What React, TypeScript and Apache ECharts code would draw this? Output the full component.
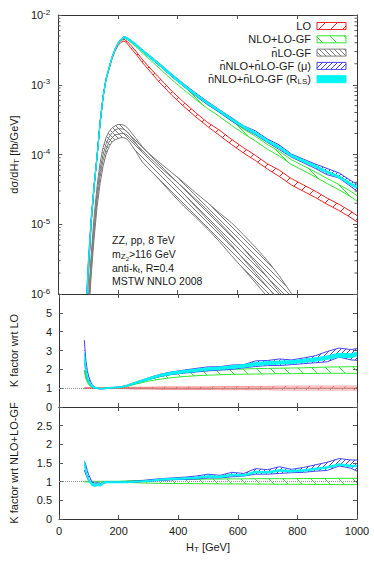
import React, { useEffect, useRef } from "react";
import * as echarts from "echarts";

// ---------------- data ----------------
const HT = [85, 90, 95, 100, 110, 120, 130, 140, 150, 160, 170, 180, 190, 200, 210, 220, 230, 240, 260, 280, 300, 340, 380, 420, 460, 500, 540, 580, 620, 660, 700, 740, 780, 820, 860, 900, 940, 980, 1000];
const HT_GF = [85, 90, 95, 100, 110, 120, 130, 140, 150, 160, 170, 180, 190, 200, 210, 220, 230, 240, 260, 280, 300, 340, 380, 420, 460, 500, 540, 580, 620, 660, 700, 740, 780, 820, 860];

// top panel: d sigma / d HT [fb/GeV]
const loLow = [2.30e-8, 1.23e-7, 4.91e-7, 1.63e-6, 9.8e-6, 3.40e-5, 9.36e-5, 2.83e-4, 6.63e-4, 1.18e-3, 1.66e-3, 2.35e-3, 3.03e-3, 3.64e-3, 4.05e-3, 4.24e-3, 3.96e-3, 3.46e-3, 2.75e-3, 2.13e-3, 1.69e-3, 1.07e-3, 7.09e-4, 4.90e-4, 3.47e-4, 2.52e-4, 1.87e-4, 1.39e-4, 1.05e-4, 8.18e-5, 6.20e-5, 4.84e-5, 3.67e-5, 2.98e-5, 2.43e-5, 1.93e-5, 1.57e-5, 1.24e-5, 1.08e-5];
const loHigh = [2.39e-8, 1.28e-7, 5.11e-7, 1.69e-6, 1.02e-5, 3.54e-5, 9.74e-5, 2.94e-4, 6.90e-4, 1.23e-3, 1.73e-3, 2.45e-3, 3.15e-3, 3.79e-3, 4.29e-3, 4.50e-3, 4.20e-3, 3.81e-3, 3.03e-3, 2.35e-3, 1.87e-3, 1.23e-3, 8.12e-4, 5.62e-4, 3.98e-4, 2.88e-4, 2.23e-4, 1.65e-4, 1.25e-4, 9.72e-5, 7.37e-5, 5.96e-5, 4.52e-5, 3.68e-5, 2.99e-5, 2.37e-5, 1.93e-5, 1.53e-5, 1.33e-5];
const nloHigh = [4.62e-8, 1.99e-7, 6.92e-7, 2.03e-6, 1.07e-5, 3.54e-5, 9.45e-5, 2.86e-4, 6.76e-4, 1.21e-3, 1.73e-3, 2.47e-3, 3.21e-3, 3.94e-3, 4.50e-3, 4.85e-3, 4.69e-3, 4.36e-3, 3.75e-3, 3.11e-3, 2.61e-3, 1.86e-3, 1.32e-3, 9.55e-4, 6.98e-4, 5.20e-4, 4.02e-4, 3.03e-4, 2.32e-4, 1.82e-4, 1.39e-4, 1.11e-4, 8.43e-5, 6.89e-5, 5.65e-5, 4.53e-5, 3.70e-5, 2.95e-5, 2.57e-5];
const nloLow = [4.50e-8, 1.91e-7, 6.67e-7, 1.96e-6, 1.05e-5, 3.47e-5, 9.36e-5, 2.83e-4, 6.69e-4, 1.20e-3, 1.71e-3, 2.45e-3, 3.18e-3, 3.86e-3, 4.38e-3, 4.67e-3, 4.48e-3, 4.14e-3, 3.52e-3, 2.91e-3, 2.44e-3, 1.70e-3, 1.18e-3, 8.50e-4, 6.17e-4, 4.55e-4, 3.49e-4, 2.62e-4, 2.00e-4, 1.56e-4, 1.19e-4, 9.50e-5, 7.21e-5, 5.89e-5, 4.79e-5, 3.83e-5, 3.11e-5, 2.47e-5, 2.15e-5];
const gfA = [2.51e-8, 7.94e-8, 2.51e-7, 7.08e-7, 3.55e-6, 1.26e-5, 3.55e-5, 7.59e-5, 1.26e-4, 1.74e-4, 2.14e-4, 2.40e-4, 2.57e-4, 2.69e-4, 2.69e-4, 2.63e-4, 2.45e-4, 2.19e-4, 1.70e-4, 1.32e-4, 1.07e-4, 7.59e-5, 5.50e-5, 3.98e-5, 2.82e-5, 2.04e-5, 1.45e-5, 1.05e-5, 7.08e-6, 4.68e-6, 3.02e-6, 1.82e-6, 1.02e-6, 6.31e-7, 3.98e-7];
const gfD = [1.26e-8, 3.98e-8, 1.26e-7, 3.55e-7, 1.78e-6, 6.31e-6, 1.78e-5, 3.80e-5, 6.76e-5, 1.0e-4, 1.29e-4, 1.51e-4, 1.62e-4, 1.70e-4, 1.74e-4, 1.74e-4, 1.66e-4, 1.48e-4, 1.10e-4, 7.94e-5, 6.46e-5, 4.27e-5, 2.75e-5, 1.82e-5, 1.26e-5, 8.51e-6, 5.62e-6, 3.55e-6, 2.29e-6, 1.45e-6, 9.12e-7, 5.75e-7, 3.63e-7, 2.29e-7, 1.45e-7];
const gfB = [2.0e-8, 6.31e-8, 2.0e-7, 5.62e-7, 2.82e-6, 1.0e-5, 2.82e-5, 6.03e-5, 1.0e-4, 1.41e-4, 1.78e-4, 2.04e-4, 2.24e-4, 2.34e-4, 2.34e-4, 2.29e-4, 2.14e-4, 1.91e-4, 1.45e-4, 1.10e-4, 8.91e-5, 6.03e-5, 4.07e-5, 2.75e-5, 1.78e-5, 1.17e-5, 7.76e-6, 5.01e-6, 3.16e-6, 2.0e-6, 1.26e-6, 7.94e-7, 5.01e-7, 3.16e-7, 2.0e-7];
const gfC = [1.58e-8, 5.01e-8, 1.58e-7, 4.47e-7, 2.24e-6, 7.94e-6, 2.24e-5, 4.79e-5, 8.32e-5, 1.17e-4, 1.51e-4, 1.74e-4, 1.91e-4, 1.95e-4, 2.0e-4, 2.0e-4, 1.91e-4, 1.74e-4, 1.41e-4, 1.17e-4, 9.55e-5, 6.61e-5, 4.68e-5, 3.31e-5, 2.29e-5, 1.58e-5, 1.05e-5, 6.92e-6, 4.47e-6, 2.82e-6, 1.74e-6, 1.07e-6, 6.61e-7, 4.17e-7, 2.63e-7];
const muHigh = [8.32e-8, 3.15e-7, 9.77e-7, 2.66e-6, 1.2e-5, 3.68e-5, 9.55e-5, 2.83e-4, 6.69e-4, 1.21e-3, 1.75e-3, 2.49e-3, 3.24e-3, 3.98e-3, 4.54e-3, 4.89e-3, 4.73e-3, 4.43e-3, 3.84e-3, 3.22e-3, 2.74e-3, 2.00e-3, 1.42e-3, 1.03e-3, 7.62e-4, 5.73e-4, 4.37e-4, 3.38e-4, 2.58e-4, 2.18e-4, 1.67e-4, 1.37e-4, 1.02e-4, 8.61e-5, 7.32e-5, 6.31e-5, 5.44e-5, 4.21e-5, 3.73e-5];
const muLow = [5.86e-8, 2.33e-7, 7.52e-7, 2.16e-6, 1.07e-5, 3.47e-5, 9.26e-5, 2.74e-4, 6.49e-4, 1.19e-3, 1.71e-3, 2.45e-3, 3.18e-3, 3.86e-3, 4.42e-3, 4.71e-3, 4.56e-3, 4.25e-3, 3.66e-3, 3.05e-3, 2.58e-3, 1.86e-3, 1.31e-3, 9.45e-4, 6.91e-4, 5.17e-4, 4.00e-4, 3.03e-4, 2.39e-4, 1.92e-4, 1.49e-4, 1.18e-4, 9.17e-5, 7.62e-5, 6.33e-5, 5.13e-5, 4.61e-5, 3.45e-5, 2.98e-5];
const rlsHigh = [6.80e-8, 2.64e-7, 8.42e-7, 2.34e-6, 1.16e-5, 3.68e-5, 9.65e-5, 2.86e-4, 6.76e-4, 1.23e-3, 1.77e-3, 2.52e-3, 3.28e-3, 3.98e-3, 4.54e-3, 4.89e-3, 4.77e-3, 4.47e-3, 3.86e-3, 3.22e-3, 2.76e-3, 1.99e-3, 1.41e-3, 1.02e-3, 7.47e-4, 5.60e-4, 4.33e-4, 3.32e-4, 2.58e-4, 2.10e-4, 1.63e-4, 1.31e-4, 1.00e-4, 8.38e-5, 7.03e-5, 5.79e-5, 4.95e-5, 3.89e-5, 3.51e-5];
const rlsLow = [5.86e-8, 2.39e-7, 7.62e-7, 2.14e-6, 1.08e-5, 3.47e-5, 9.26e-5, 2.74e-4, 6.49e-4, 1.18e-3, 1.70e-3, 2.42e-3, 3.15e-3, 3.83e-3, 4.38e-3, 4.71e-3, 4.52e-3, 4.25e-3, 3.63e-3, 3.05e-3, 2.58e-3, 1.87e-3, 1.32e-3, 9.55e-4, 7.02e-4, 5.28e-4, 4.08e-4, 3.10e-4, 2.42e-4, 1.96e-4, 1.52e-4, 1.22e-4, 9.37e-5, 7.85e-5, 6.54e-5, 5.41e-5, 4.61e-5, 3.62e-5, 3.27e-5];

// middle panel: K factor wrt LO
const kLoLow = [0.98, 0.98, 0.98, 0.98, 0.98, 0.98, 0.98, 0.98, 0.98, 0.98, 0.98, 0.98, 0.98, 0.98, 0.97, 0.97, 0.97, 0.95, 0.95, 0.95, 0.95, 0.93, 0.93, 0.93, 0.93, 0.93, 0.92, 0.92, 0.92, 0.92, 0.92, 0.9, 0.9, 0.9, 0.9, 0.9, 0.9, 0.9, 0.9];
const kLoHigh = [1.02, 1.02, 1.02, 1.02, 1.02, 1.02, 1.02, 1.02, 1.02, 1.02, 1.02, 1.02, 1.02, 1.02, 1.03, 1.03, 1.03, 1.05, 1.05, 1.05, 1.05, 1.07, 1.07, 1.07, 1.07, 1.07, 1.09, 1.09, 1.09, 1.09, 1.09, 1.11, 1.11, 1.11, 1.11, 1.11, 1.11, 1.11, 1.11];
const kLoRef = [[85, 1], [1000, 1]];
const kNloHigh = [1.97, 1.58, 1.38, 1.22, 1.07, 1.02, 0.99, 0.99, 1.0, 1.01, 1.02, 1.03, 1.04, 1.06, 1.08, 1.11, 1.15, 1.2, 1.3, 1.39, 1.47, 1.62, 1.74, 1.82, 1.88, 1.93, 1.97, 2.0, 2.02, 2.04, 2.05, 2.06, 2.07, 2.08, 2.1, 2.12, 2.13, 2.14, 2.14];
const kNloLow = [1.92, 1.52, 1.33, 1.18, 1.05, 1.0, 0.98, 0.98, 0.99, 1.0, 1.01, 1.02, 1.03, 1.04, 1.05, 1.07, 1.1, 1.14, 1.22, 1.3, 1.37, 1.48, 1.56, 1.62, 1.66, 1.69, 1.71, 1.73, 1.74, 1.75, 1.76, 1.77, 1.77, 1.78, 1.78, 1.79, 1.79, 1.79, 1.79];
const kMuHigh = [3.55, 2.5, 1.95, 1.6, 1.2, 1.06, 1.0, 0.98, 0.99, 1.01, 1.03, 1.04, 1.05, 1.07, 1.09, 1.12, 1.16, 1.22, 1.33, 1.44, 1.54, 1.74, 1.87, 1.96, 2.05, 2.13, 2.14, 2.23, 2.25, 2.45, 2.47, 2.55, 2.5, 2.6, 2.72, 2.95, 3.13, 3.05, 3.1];
const kMuLow = [2.5, 1.85, 1.5, 1.3, 1.07, 1.0, 0.97, 0.95, 0.96, 0.99, 1.01, 1.02, 1.03, 1.04, 1.06, 1.08, 1.12, 1.17, 1.27, 1.36, 1.45, 1.62, 1.73, 1.8, 1.86, 1.92, 1.96, 2.0, 2.08, 2.15, 2.2, 2.2, 2.25, 2.3, 2.35, 2.4, 2.65, 2.5, 2.48];
const kRlsHigh = [2.9, 2.1, 1.68, 1.41, 1.16, 1.06, 1.01, 0.99, 1.0, 1.02, 1.04, 1.05, 1.06, 1.07, 1.09, 1.12, 1.17, 1.23, 1.34, 1.44, 1.55, 1.73, 1.86, 1.94, 2.01, 2.08, 2.12, 2.19, 2.25, 2.36, 2.41, 2.44, 2.46, 2.53, 2.61, 2.71, 2.85, 2.82, 2.92];
const kRlsLow = [2.5, 1.9, 1.52, 1.29, 1.08, 1.0, 0.97, 0.95, 0.96, 0.98, 1.0, 1.01, 1.02, 1.03, 1.05, 1.08, 1.11, 1.17, 1.26, 1.36, 1.45, 1.63, 1.74, 1.82, 1.89, 1.96, 2.0, 2.05, 2.11, 2.2, 2.25, 2.28, 2.3, 2.37, 2.43, 2.53, 2.65, 2.62, 2.72];

// bottom panel: K factor wrt NLO+LO-GF
const bNloHigh = [1.01, 1.01, 1.01, 1.01, 1.01, 1.01, 1.01, 1.01, 1.01, 1.01, 1.01, 1.01, 1.01, 1.01, 1.015, 1.02, 1.02, 1.025, 1.03, 1.035, 1.04, 1.05, 1.055, 1.06, 1.065, 1.07, 1.07, 1.075, 1.075, 1.08, 1.08, 1.08, 1.08, 1.085, 1.085, 1.085, 1.09, 1.09, 1.09];
const bNloLow = [0.99, 0.99, 0.99, 0.99, 0.99, 0.99, 0.99, 0.99, 0.99, 0.99, 0.99, 0.99, 0.99, 0.99, 0.985, 0.98, 0.98, 0.975, 0.97, 0.965, 0.96, 0.955, 0.95, 0.95, 0.945, 0.945, 0.94, 0.94, 0.94, 0.935, 0.935, 0.93, 0.93, 0.93, 0.925, 0.925, 0.92, 0.92, 0.92];
const bMuHigh = [1.55, 1.45, 1.3, 1.18, 1.0, 0.96, 0.97, 0.95, 1.0, 1.0, 1.0, 1.0, 1.0, 1.0, 1.0, 1.0, 1.01, 1.01, 1.02, 1.03, 1.05, 1.08, 1.1, 1.12, 1.15, 1.2, 1.17, 1.25, 1.22, 1.35, 1.32, 1.4, 1.33, 1.38, 1.45, 1.52, 1.62, 1.58, 1.58];
const bMuLow = [1.3, 1.2, 1.1, 1.02, 0.92, 0.9, 0.91, 0.9, 0.96, 0.98, 0.98, 0.98, 0.98, 0.98, 0.98, 0.98, 0.98, 0.99, 0.99, 1.0, 1.01, 1.03, 1.05, 1.06, 1.07, 1.1, 1.1, 1.13, 1.15, 1.2, 1.2, 1.22, 1.24, 1.25, 1.28, 1.3, 1.42, 1.36, 1.28];
const bRlsHigh = [1.55, 1.35, 1.18, 1.08, 0.96, 0.93, 0.95, 0.93, 1.0, 1.0, 1.0, 1.0, 1.0, 1.0, 1.0, 1.0, 1.0, 1.0, 1.01, 1.02, 1.03, 1.07, 1.09, 1.1, 1.12, 1.16, 1.15, 1.2, 1.19, 1.28, 1.27, 1.32, 1.3, 1.32, 1.36, 1.4, 1.48, 1.44, 1.44];
const bRlsLow = [1.45, 1.25, 1.12, 1.02, 0.9, 0.87, 0.9, 0.88, 0.96, 0.97, 0.97, 0.97, 0.97, 0.97, 0.97, 0.97, 0.97, 0.98, 0.99, 1.0, 1.01, 1.04, 1.06, 1.07, 1.09, 1.12, 1.11, 1.16, 1.15, 1.24, 1.23, 1.28, 1.26, 1.28, 1.32, 1.36, 1.44, 1.4, 1.4];

const X_TICKS = [0, 200, 400, 600, 800, 1000];
const LEGEND = ["{n|LO}", "{n|NLO+LO-GF}", "{n|n\u0304LO-GF}", "{n|n\u0304NLO+n\u0304LO-GF (\u03bc)}", "{n|n\u0304NLO+n\u0304LO-GF (R}{s|LS}{n|)}"];

// ---------------- style ----------------
const FONT = "'Liberation Sans', Arial, Helvetica, sans-serif";
const TXT = "#1a1a1a";
const RED = "#f02424";
const GREEN = "#2ee82e";
const GREY = "#7c7c7c";
const BLUE = "#4646f2";
const CYAN = "#00f4f4";
const GL = 58;
const GR = 17;
const W = 374;
const H = 561;
const TOPS = [15, 294, 407];
const HEIGHTS = [279, 113, 112];

function makeHatch(color: string, size: number, dir: string) {
  const c = document.createElement("canvas");
  c.width = size;
  c.height = size;
  const ctx = c.getContext("2d")!;
  ctx.strokeStyle = color;
  ctx.lineWidth = 1;
  ctx.beginPath();
  for (let k = -1; k <= 1; k++) {
    if (dir === "/") {
      ctx.moveTo(k * size, size);
      ctx.lineTo(k * size + size, 0);
    } else {
      ctx.moveTo(k * size, 0);
      ctx.lineTo(k * size + size, size);
    }
  }
  ctx.stroke();
  return { image: c.toDataURL(), repeat: "repeat", imageWidth: size, imageHeight: size };
}

function band(g: number, xs: number[], lo: number[], hi: number[], fill: any, stroke: string, anchor: number[], z: number) {
  return {
    type: "custom",
    xAxisIndex: g * 2,
    yAxisIndex: g * 2,
    silent: true,
    clip: true,
    z,
    data: [anchor],
    renderItem: (params: any, api: any) => {
      const n = Math.min(xs.length, lo.length, hi.length);
      const up: number[][] = [];
      const dn: number[][] = [];
      for (let i = 0; i < n; i++) {
        up.push(api.coord([xs[i], hi[i]]));
        dn.push(api.coord([xs[i], lo[i]]));
      }
      const cs = params.coordSys;
      return {
        type: "group",
        clipPath: { type: "rect", shape: { x: cs.x, y: cs.y, width: cs.width, height: cs.height } },
        children: [
          { type: "polygon", shape: { points: up.concat(dn.slice().reverse()) }, style: { fill, stroke: null } },
          { type: "polyline", shape: { points: up }, style: { fill: null, stroke, lineWidth: 1 } },
          { type: "polyline", shape: { points: dn }, style: { fill: null, stroke, lineWidth: 1 } },
        ],
      };
    },
  };
}

function lineSeries(g: number, pts: number[][], color: string, z: number, extra: any = {}) {
  return {
    type: "line",
    xAxisIndex: g * 2,
    yAxisIndex: g * 2,
    data: pts,
    symbol: "none",
    silent: true,
    clip: true,
    z,
    lineStyle: { color, width: 1 },
    ...extra,
  };
}

const zip = (xs: number[], ys: number[]) => ys.map((v, i) => [xs[i], v]);

export default function App() {
  const ref = useRef<HTMLDivElement>(null);
  useEffect(() => {
    const el = ref.current!;
    const chart = echarts.init(el, undefined, { renderer: "svg", width: W, height: H });

    const hRed = makeHatch(RED, 12, "/");
    const hGreen = makeHatch(GREEN, 14, "\\");
    const hGrey = makeHatch(GREY, 5, "\\");
    const hBlue = makeHatch(BLUE, 5, "/");
    const hRedPale = makeHatch("rgba(240,36,36,0.55)", 12, "/");

    const axisLine = { show: true, onZero: false, lineStyle: { color: "#333", width: 1 } };
    const tick = { show: true, inside: true, length: 4, lineStyle: { color: "#555", width: 1 } };
    const lbl = { color: TXT, fontFamily: FONT, fontSize: 11, fontWeight: "normal" };
    const nameStyle = {
      color: TXT,
      fontFamily: FONT,
      fontSize: 11,
      fontWeight: "normal",
      rich: {
        n: { color: TXT, fontFamily: FONT, fontSize: 11, fontWeight: "normal" },
        s: { color: TXT, fontFamily: FONT, fontSize: 8, fontWeight: "normal", padding: [5, 0, 0, 0] },
      },
    };

    const grids = [0, 1, 2].map((g) => ({ left: GL, right: GR, top: TOPS[g], height: HEIGHTS[g], containLabel: false }));

    const xAxes: any[] = [];
    [0, 1, 2].forEach((g) => {
      xAxes.push({
        type: "value", gridIndex: g, min: X_TICKS[0], max: X_TICKS[X_TICKS.length - 1], interval: 200, position: "bottom",
        axisLine, axisTick: tick, splitLine: { show: false },
        axisLabel: g === 2 ? { ...lbl, margin: 6, formatter: (v: number) => String(v) } : { show: false },
        name: g === 2 ? "{n|H}{s|T}{n| [GeV]}" : "",
        nameLocation: "middle", nameGap: 21, nameTextStyle: nameStyle,
      });
      xAxes.push({
        type: "value", gridIndex: g, min: 0, max: 1000, interval: 200, position: "top",
        axisLine, axisTick: tick, splitLine: { show: false }, axisLabel: { show: false },
      });
    });

    const yAxes: any[] = [
      {
        type: "log", logBase: 10, gridIndex: 0, min: 1e-6, max: 1e-2, position: "left",
        axisLine, axisTick: tick, splitLine: { show: false },
        axisLabel: {
          ...lbl, margin: 8,
          formatter: (v: number) => `{b|10}{e|${Math.round(Math.log10(v))}}`,
          rich: {
            b: { color: TXT, fontFamily: FONT, fontSize: 11 },
            e: { color: TXT, fontFamily: FONT, fontSize: 8, padding: [0, 0, 6, 0] },
          },
        },
        name: "{n|d\u03c3/dH}{s|T}{n| [fb/GeV]}", nameLocation: "middle", nameGap: 38, nameRotate: 90, nameTextStyle: nameStyle,
      },
      { type: "log", logBase: 10, gridIndex: 0, min: 1e-6, max: 1e-2, position: "right", axisLine, axisTick: tick, splitLine: { show: false }, axisLabel: { show: false } },
      {
        type: "value", gridIndex: 1, min: 0, max: 6, interval: 1, position: "left",
        axisLine, axisTick: tick, splitLine: { show: false },
        axisLabel: { ...lbl, margin: 7, showMaxLabel: false },
        name: "K factor wrt LO", nameLocation: "middle", nameGap: 40, nameRotate: 90, nameTextStyle: nameStyle,
      },
      { type: "value", gridIndex: 1, min: 0, max: 6, interval: 1, position: "right", axisLine, axisTick: tick, splitLine: { show: false }, axisLabel: { show: false } },
      {
        type: "value", gridIndex: 2, min: 0, max: 3, interval: 0.5, position: "left",
        axisLine, axisTick: tick, splitLine: { show: false },
        axisLabel: { ...lbl, margin: 7, showMaxLabel: false },
        name: "K factor wrt NLO+LO-GF", nameLocation: "middle", nameGap: 40, nameRotate: 90, nameTextStyle: nameStyle,
      },
      { type: "value", gridIndex: 2, min: 0, max: 3, interval: 0.5, position: "right", axisLine, axisTick: tick, splitLine: { show: false }, axisLabel: { show: false } },
    ];

    const unity = {
      silent: true, symbol: ["none", "none"], label: { show: false },
      lineStyle: { type: "dotted", color: "#9a9a9a", width: 1 }, data: [{ yAxis: 1 }],
    };

    const anchorTop = [500, 1e-4];
    const anchorK = [500, 1];

    const series: any[] = [
      // top panel
      band(0, HT, loLow, loHigh, hRed, RED, anchorTop, 2),
      band(0, HT, nloLow, nloHigh, hGreen, GREEN, anchorTop, 3),
      band(0, HT_GF, gfD, gfA, hGrey, GREY, anchorTop, 4),
      lineSeries(0, zip(HT_GF, gfB), GREY, 4),
      lineSeries(0, zip(HT_GF, gfC), GREY, 4),
      band(0, HT, muLow, muHigh, hBlue, BLUE, anchorTop, 5),
      band(0, HT, rlsLow, rlsHigh, CYAN, CYAN, anchorTop, 6),
      // middle panel
      lineSeries(1, [[0, 1], [1000, 1]], "rgba(0,0,0,0)", 1, { markLine: unity }),
      band(1, HT, kLoLow, kLoHigh, hRedPale, "rgba(240,36,36,0.45)", anchorK, 2),
      lineSeries(1, kLoRef, RED, 2),
      band(1, HT, kNloLow, kNloHigh, hGreen, GREEN, anchorK, 3),
      band(1, HT, kMuLow, kMuHigh, hBlue, BLUE, anchorK, 5),
      band(1, HT, kRlsLow, kRlsHigh, CYAN, CYAN, anchorK, 6),
      // bottom panel
      lineSeries(2, [[0, 1], [1000, 1]], "rgba(0,0,0,0)", 1, { markLine: unity }),
      band(2, HT, bNloLow, bNloHigh, hGreen, GREEN, anchorK, 3),
      band(2, HT, bMuLow, bMuHigh, hBlue, BLUE, anchorK, 5),
      band(2, HT, bRlsLow, bRlsHigh, CYAN, CYAN, anchorK, 6),
    ];

    chart.setOption({
      animation: false,
      backgroundColor: "#fff",
      textStyle: { fontFamily: FONT },
      grid: grids,
      xAxis: xAxes,
      yAxis: yAxes,
      series,
    });

    // legend + annotation + log minor ticks
    const graphics: any[] = [];
    const rowY = [26, 39.3, 52.6, 65.9, 79.2];
    const fills = [hRed, hGreen, hGrey, hBlue, CYAN];
    const strokes = [RED, GREEN, GREY, BLUE, CYAN];
    const richBase = {
      n: { fill: TXT, fontFamily: FONT, fontSize: 11, fontWeight: "normal" },
      s: { fill: TXT, fontFamily: FONT, fontSize: 8, fontWeight: "normal", padding: [5, 0, 0, 0] },
    };
    LEGEND.forEach((t, i) => {
      graphics.push({
        type: "text", x: 311, y: rowY[i], z: 20, silent: true,
        style: {
          text: t, fill: TXT, fontFamily: FONT, fontSize: 11, fontWeight: "normal",
          align: "right", verticalAlign: "middle", rich: richBase,
        },
      });
      graphics.push({
        type: "rect", z: 20, silent: true,
        shape: { x: 317, y: rowY[i] - 3.5, width: 29, height: 7 },
        style: { fill: fills[i], stroke: strokes[i], lineWidth: 1 },
      });
    });

    const notes = [
      "{n|ZZ, pp, 8 TeV}",
      "{n|m}{s|Z}{ss|2}{n|>116 GeV}",
      "{n|anti-k}{s|t}{n|, R=0.4}",
      "{n|MSTW NNLO 2008}",
    ];
    const noteY = [240, 254, 268, 281];
    notes.forEach((t, i) => {
      graphics.push({
        type: "text", x: 112, y: noteY[i], z: 20, silent: true,
        style: {
          text: t, fill: TXT, fontFamily: FONT, fontSize: 10.5, fontWeight: "normal",
          align: "left", verticalAlign: "middle",
          rich: {
            n: { fill: TXT, fontFamily: FONT, fontSize: 10.5, fontWeight: "normal" },
            s: { fill: TXT, fontFamily: FONT, fontSize: 8, fontWeight: "normal", padding: [5, 0, 0, 0] },
            ss: { fill: TXT, fontFamily: FONT, fontSize: 6, fontWeight: "normal", padding: [10, 0, 0, 0] },
          },
        },
      });
    });

    const xr = W - GR;
    for (let d = -6; d < -2; d++) {
      for (let m = 2; m <= 9; m++) {
        const y = chart.convertToPixel({ yAxisIndex: 0 }, m * Math.pow(10, d)) as number;
        graphics.push({ type: "line", z: 10, silent: true, shape: { x1: GL, y1: y, x2: GL + 2.5, y2: y }, style: { stroke: "#555", lineWidth: 1 } });
        graphics.push({ type: "line", z: 10, silent: true, shape: { x1: xr - 2.5, y1: y, x2: xr, y2: y }, style: { stroke: "#555", lineWidth: 1 } });
      }
    }

    chart.setOption({ graphic: graphics });

    return () => chart.dispose();
  }, []);

  return <div ref={ref} style={{ position: "absolute", left: 0, top: 0, width: W, height: H, background: "#fff" }} />;
}
